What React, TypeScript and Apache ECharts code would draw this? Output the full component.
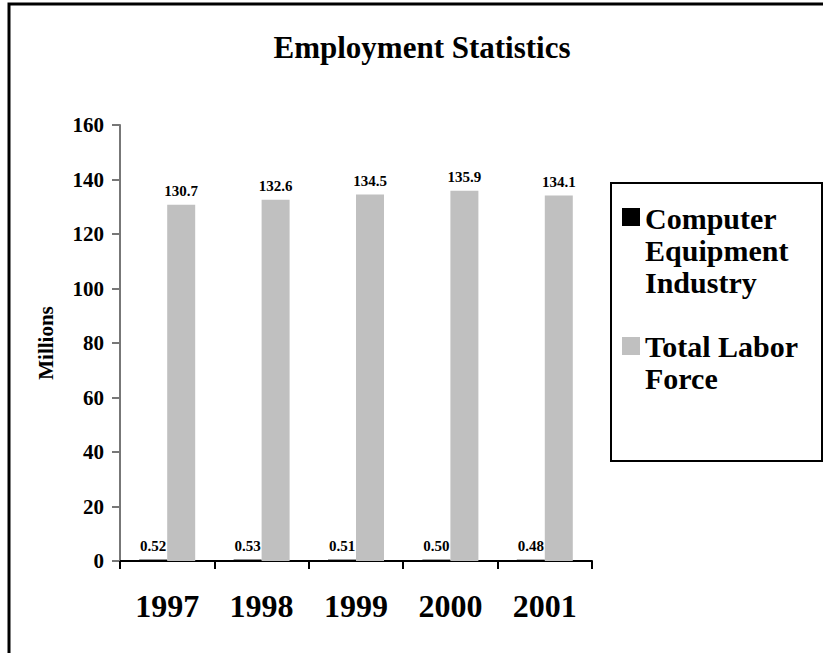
import React, { useEffect, useRef } from "react";
import * as echarts from "echarts";

const categories = ["1997", "1998", "1999", "2000", "2001"];
const computerEquipment = [0.52, 0.53, 0.51, 0.5, 0.48];
const totalLaborForce = [130.7, 132.6, 134.5, 135.9, 134.1];
const seriesNames = ["Computer Equipment Industry", "Total Labor Force"];
const legendLabels = ["Computer\nEquipment\nIndustry", "Total Labor\nForce"];
const seriesColors = ["#000000", "#c0c0c0"];

const FONT = "'Liberation Serif', 'Times New Roman', serif";

export default function App() {
  const ref = useRef<HTMLDivElement>(null);
  useEffect(() => {
    if (!ref.current) return;
    const chart = echarts.init(ref.current, undefined, { renderer: "svg" });
    const labelStyle = {
      show: true,
      position: "top" as const,
      distance: 6,
      color: "#000",
      fontFamily: FONT,
      fontWeight: "bold" as const,
      fontSize: 15,
    };
    chart.setOption({
      animation: false,
      backgroundColor: "#ffffff",
      textStyle: { fontFamily: FONT },
      title: {
        text: "Employment Statistics",
        left: 422,
        top: 32,
        padding: 0,
        textAlign: "center",
        textStyle: { fontFamily: FONT, fontWeight: "bold", fontSize: 31, color: "#000" },
      },
      grid: { left: 120, right: 231, top: 125, bottom: 92, containLabel: false },
      xAxis: {
        type: "category",
        data: categories,
        axisLine: { show: true, lineStyle: { color: "#000", width: 2 } },
        axisTick: { show: true, length: 8, lineStyle: { color: "#000", width: 2 } },
        axisLabel: {
          margin: 29,
          color: "#000",
          fontFamily: FONT,
          fontWeight: "bold",
          fontSize: 32,
        },
        splitLine: { show: false },
      },
      yAxis: {
        type: "value",
        min: 0,
        max: 160,
        interval: 20,
        name: "Millions",
        nameLocation: "middle",
        nameRotate: 90,
        nameGap: 64,
        nameTextStyle: { fontFamily: FONT, fontWeight: "bold", fontSize: 21, color: "#000" },
        axisLine: { show: true, lineStyle: { color: "#777", width: 2 } },
        axisTick: { show: true, length: 8, lineStyle: { color: "#777", width: 2 } },
        axisLabel: {
          margin: 16,
          color: "#000",
          fontFamily: FONT,
          fontWeight: "bold",
          fontSize: 21,
        },
        splitLine: { show: false },
      },
      series: [
        {
          name: seriesNames[0],
          type: "bar",
          data: computerEquipment,
          barWidth: 28,
          barGap: "0%",
          itemStyle: { color: seriesColors[0] },
          label: { ...labelStyle, formatter: (p: any) => Number(p.value).toFixed(2) },
        },
        {
          name: seriesNames[1],
          type: "bar",
          data: totalLaborForce,
          barWidth: 28,
          barGap: "0%",
          itemStyle: { color: seriesColors[1] },
          label: { ...labelStyle, formatter: (p: any) => Number(p.value).toFixed(1) },
        },
      ],
      graphic: [
        {
          type: "rect",
          shape: { x: 9, y: 4, width: 900, height: 800 },
          style: { fill: "none", stroke: "#000", lineWidth: 3 },
          silent: true,
        },
        {
          type: "rect",
          shape: { x: 611, y: 183, width: 211, height: 278 },
          style: { fill: "#fff", stroke: "#000", lineWidth: 2 },
          silent: true,
        },
        {
          type: "rect",
          shape: { x: 622, y: 208, width: 18, height: 18 },
          style: { fill: seriesColors[0] },
        },
        {
          type: "text",
          x: 645,
          y: 202,
          style: {
            text: legendLabels[0],
            font: `bold 30px ${FONT}`,
            lineHeight: 32,
            fill: "#000",
            verticalAlign: "top",
          },
        },
        {
          type: "rect",
          shape: { x: 622, y: 337, width: 18, height: 18 },
          style: { fill: seriesColors[1] },
        },
        {
          type: "text",
          x: 645,
          y: 330,
          style: {
            text: legendLabels[1],
            font: `bold 30px ${FONT}`,
            lineHeight: 32,
            fill: "#000",
            verticalAlign: "top",
          },
        },
      ],
    });
    return () => chart.dispose();
  }, []);
  return (
    <div
      ref={ref}
      style={{ position: "absolute", left: 0, top: 0, width: 823, height: 653 }}
    />
  );
}
